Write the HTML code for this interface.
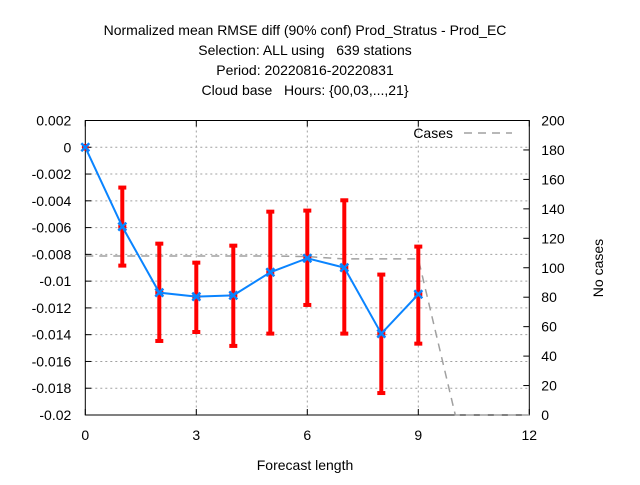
<!DOCTYPE html>
<html><head><meta charset="utf-8"><style>
body{margin:0;background:#fff;}
svg text{font-family:"Liberation Sans",sans-serif;font-size:14px;fill:#000;white-space:pre;}
</style></head><body>
<svg width="640" height="480" id="c">
<g id="titles">
<text x="305" y="35" text-anchor="middle">Normalized mean RMSE diff (90% conf) Prod_Stratus - Prod_EC</text>
<text x="305" y="55" text-anchor="middle">Selection: ALL using   639 stations</text>
<text x="305" y="75" text-anchor="middle">Period: 20220816-20220831</text>
<text x="305" y="95" text-anchor="middle">Cloud base   Hours: {00,03,...,21}</text>
</g>
<text x="305" y="470" text-anchor="middle">Forecast length</text>
<text x="603" y="268" text-anchor="middle" transform="rotate(-90 603 268)">No cases</text>
</svg>
<script>
const leads=[0,1,2,3,4,5,6,7,8,9];
const meanDiff=[0,-0.00593,-0.01086,-0.01116,-0.01106,-0.00934,-0.00829,-0.00899,-0.01392,-0.01098];
const errLow=[0,-0.00884,-0.01447,-0.0138,-0.01484,-0.01392,-0.01178,-0.01392,-0.01836,-0.01467];
const errHigh=[0,-0.00301,-0.0072,-0.00862,-0.00735,-0.00481,-0.00473,-0.00396,-0.00951,-0.00742];
const caseLeads=[0,1,2,3,4,5,6,7,8,9,10,11,12];
const cases=[108,108,108,108,108,108,107.6,106,106,106,0,0,0];
const xTicks=[0,3,6,9,12];
const yTicks=[0.002,0,-0.002,-0.004,-0.006,-0.008,-0.01,-0.012,-0.014,-0.016,-0.018,-0.02];
const y2Ticks=[0,20,40,60,80,100,120,140,160,180,200];
const L=85.3,R=529.3,T=120.5,B=415;
const X=v=>L+(v-0)/12*(R-L);
const Y=v=>T+(0.002-v)/0.022*(B-T);
const Y2=v=>B-v/200*(B-T);
const svg=document.getElementById('c');
const NS='http://www.w3.org/2000/svg';
function mk(t,a,p){const e=document.createElementNS(NS,t);for(const k in a)e.setAttribute(k,a[k]);(p||svg).appendChild(e);return e;}
const grid=mk('g',{});


xTicks.forEach(v=>{if(v>0&&v<12)mk('line',{x1:X(v),x2:X(v),y1:T,y2:B,stroke:'#a0a0a0','stroke-dasharray':'2,3'},grid);});
yTicks.forEach(v=>{if(v<0.0019&&v>-0.0199)mk('line',{x1:L,x2:R,y1:Y(v),y2:Y(v),stroke:'#a0a0a0','stroke-dasharray':'2,3'},grid);});
const ax=mk('g',{});


xTicks.forEach(v=>{mk('line',{x1:X(v),x2:X(v),y1:B,y2:B-6,stroke:'#000'},ax);mk('line',{x1:X(v),x2:X(v),y1:T,y2:T+6,stroke:'#000'},ax);
 const t=mk('text',{x:X(v),y:B+25,'text-anchor':'middle'},ax);t.textContent=v;
 
 });
yTicks.forEach(v=>{mk('line',{x1:L,x2:L+6,y1:Y(v),y2:Y(v),stroke:'#000'},ax);
 const t=mk('text',{x:L-14,y:Y(v)+5,'text-anchor':'end'},ax);t.textContent=(Math.abs(v)<1e-9?'0':String(+v.toFixed(3)));
 
 });
y2Ticks.forEach(v=>{mk('line',{x1:R-6,x2:R,y1:Y2(v),y2:Y2(v),stroke:'#000'},ax);
 const t=mk('text',{x:R+12,y:Y2(v)+5,'text-anchor':'start'},ax);t.textContent=v;
 
 });
mk('rect',{x:L,y:T,width:R-L,height:B-T,fill:'none',stroke:'#000'},ax);
const cl=mk('polyline',{points:caseLeads.map((v,i)=>X(v)+','+Y2(cases[i])).join(' '),fill:'none',stroke:'#a0a0a0','stroke-width':1.5,'stroke-dasharray':'8,6'});


const lg=mk('text',{x:453,y:138,'text-anchor':'end'});lg.textContent='Cases';


mk('line',{x1:464,x2:512,y1:133,y2:133,stroke:'#a0a0a0','stroke-width':1.5,'stroke-dasharray':'8,6'});
leads.forEach((v,i)=>{if(i==0)return;const g=mk('g',{});
 
 
 mk('line',{x1:X(v),x2:X(v),y1:Y(errLow[i]),y2:Y(errHigh[i]),stroke:'#ff0000','stroke-width':4},g);
 mk('line',{x1:X(v)-4,x2:X(v)+4,y1:Y(errLow[i]),y2:Y(errLow[i]),stroke:'#ff0000','stroke-width':4},g);
 mk('line',{x1:X(v)-4,x2:X(v)+4,y1:Y(errHigh[i]),y2:Y(errHigh[i]),stroke:'#ff0000','stroke-width':4},g);
 mk('line',{x1:X(v)-4,x2:X(v)+4,y1:Y(meanDiff[i]),y2:Y(meanDiff[i]),stroke:'#ff0000','stroke-width':4},g);});
const ml=mk('polyline',{points:leads.map((v,i)=>X(v)+','+Y(meanDiff[i])).join(' '),fill:'none',stroke:'#0a84ff','stroke-width':2});


leads.forEach((v,i)=>{const x=X(v),y=Y(meanDiff[i]);const g=mk('g',{});
 
 
 if(i==0)mk('circle',{cx:x,cy:y,r:3.5,fill:'#ff0000'},g);
 mk('path',{d:`M${x-4} ${y-4}L${x+4} ${y+4}M${x-4} ${y+4}L${x+4} ${y-4}`,stroke:'#0a84ff','stroke-width':2.5},g);});
</script>
</body></html>
